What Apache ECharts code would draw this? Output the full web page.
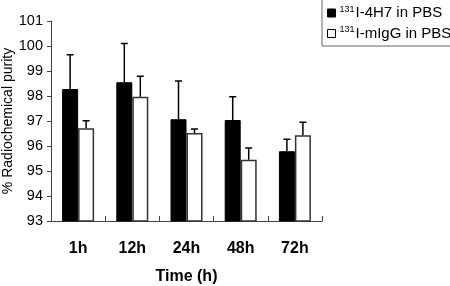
<!DOCTYPE html>
<html>
<head>
<meta charset="utf-8">
<script src="https://cdn.jsdelivr.net/npm/echarts@6/dist/echarts.min.js"></script>
<style>
	html, body {margin: 0; padding: 0; background: #fff;}
	#chart {width: 450px; height: 286px;}
</style>
</head>
<body>
<div id="chart"></div>
<script>
const categories = ['1h', '12h', '24h', '48h', '72h'];
const yTicks = [93, 94, 95, 96, 97, 98, 99, 100, 101];
const h7Values = [98.28, 98.55, 97.07, 97.04, 95.79];
const h7Errors = [1.37, 1.55, 1.53, 0.93, 0.48];
const iggValues = [96.71, 97.97, 96.52, 95.45, 96.43];
const iggErrors = [0.30, 0.82, 0.16, 0.47, 0.52];

const barW = 16;
const font = 'Liberation Sans, Arial, sans-serif';

let chart = echarts.init(document.getElementById('chart'));

// error bar: upward whisker with a cap, shifted to the bar's centre
const errorBar = (shift) => (params, api) => {
	let v = api.value(1), e = api.value(2);
	let base = api.coord([api.value(0), v]);
	let top = api.coord([api.value(0), v + e]);
	let x = base[0] + shift;
	let style = {stroke: '#000', lineWidth: 1.5};
	return {
		type: 'group',
		children: [
			{type: 'line', shape: {x1: x, y1: base[1], x2: x, y2: top[1]}, style: style},
			{type: 'line', shape: {x1: x - 3.5, y1: top[1], x2: x + 3.5, y2: top[1]}, style: style}
		]
	};
};

const rich = {
	sup: {fontSize: 9, verticalAlign: 'top', padding: [0, 1, 7, 0], fontFamily: font, color: '#000'},
	t: {fontSize: 15, fontFamily: font, color: '#000'}
};

let option = {
	animation: false,
	textStyle: {fontFamily: font},
	legend: {
		orient: 'vertical',
		left: 322,
		top: -1,
		padding: [6, 20, 5, 5],
		itemGap: 5,
		itemWidth: 8,
		itemHeight: 8,
		borderColor: '#666',
		borderWidth: 1,
		data: [
			{name: 'h7', icon: 'rect', itemStyle: {color: '#000', borderColor: '#000', borderWidth: 1}},
			{name: 'igg', icon: 'rect', itemStyle: {color: '#fff', borderColor: '#000', borderWidth: 1}}
		],
		formatter: (n) => n === 'h7' ? '{sup|131}{t|I-4H7 in PBS}' : '{sup|131}{t|I-mIgG in PBS}',
		textStyle: {rich: rich, padding: [0, 0, 0, -1]}
	},
	grid: {left: 51, right: 128, top: 21, bottom: 65, outerBoundsMode: 'none', containLabel: false},
	xAxis: {
		type: 'category',
		data: categories,
		name: 'Time (h)',
		nameLocation: 'middle',
		nameGap: 48,
		nameMoveOverlap: false,
		nameTextStyle: {fontSize: 16, fontWeight: 'bold', color: '#000'},
		axisLine: {lineStyle: {color: '#444', width: 1}},
		axisTick: {show: true, inside: true, length: 5, lineStyle: {color: '#444'}},
		axisLabel: {fontSize: 16, fontWeight: 'bold', color: '#000', margin: 20}
	},
	yAxis: {
		type: 'value',
		min: yTicks[0],
		max: yTicks[yTicks.length - 1],
		interval: 1,
		name: '% Radiochemical purity',
		nameLocation: 'middle',
		nameGap: 36,
		nameMoveOverlap: false,
		nameTextStyle: {fontSize: 14, color: '#000'},
		splitLine: {show: false},
		axisLine: {show: true, lineStyle: {color: '#444', width: 1}},
		axisTick: {show: true, length: 4, lineStyle: {color: '#444'}},
		axisLabel: {fontSize: 14.5, color: '#000', margin: 8}
	},
	series: [
		{
			name: 'h7',
			type: 'bar',
			data: h7Values,
			barWidth: barW,
			barGap: '0%',
			itemStyle: {color: '#000', borderColor: '#000', borderWidth: 1}
		},
		{
			name: 'igg',
			type: 'bar',
			data: iggValues,
			barWidth: barW,
			barGap: '0%',
			itemStyle: {color: '#fff', borderColor: '#333', borderWidth: 1.5}
		},
		{
			type: 'custom',
			renderItem: errorBar(-barW / 2),
			data: h7Values.map((v, i) => [i, v, h7Errors[i]]),
			z: 5
		},
		{
			type: 'custom',
			renderItem: errorBar(barW / 2),
			data: iggValues.map((v, i) => [i, v, iggErrors[i]]),
			z: 5
		}
	]
};

chart.setOption(option);
</script>
</body>
</html>
